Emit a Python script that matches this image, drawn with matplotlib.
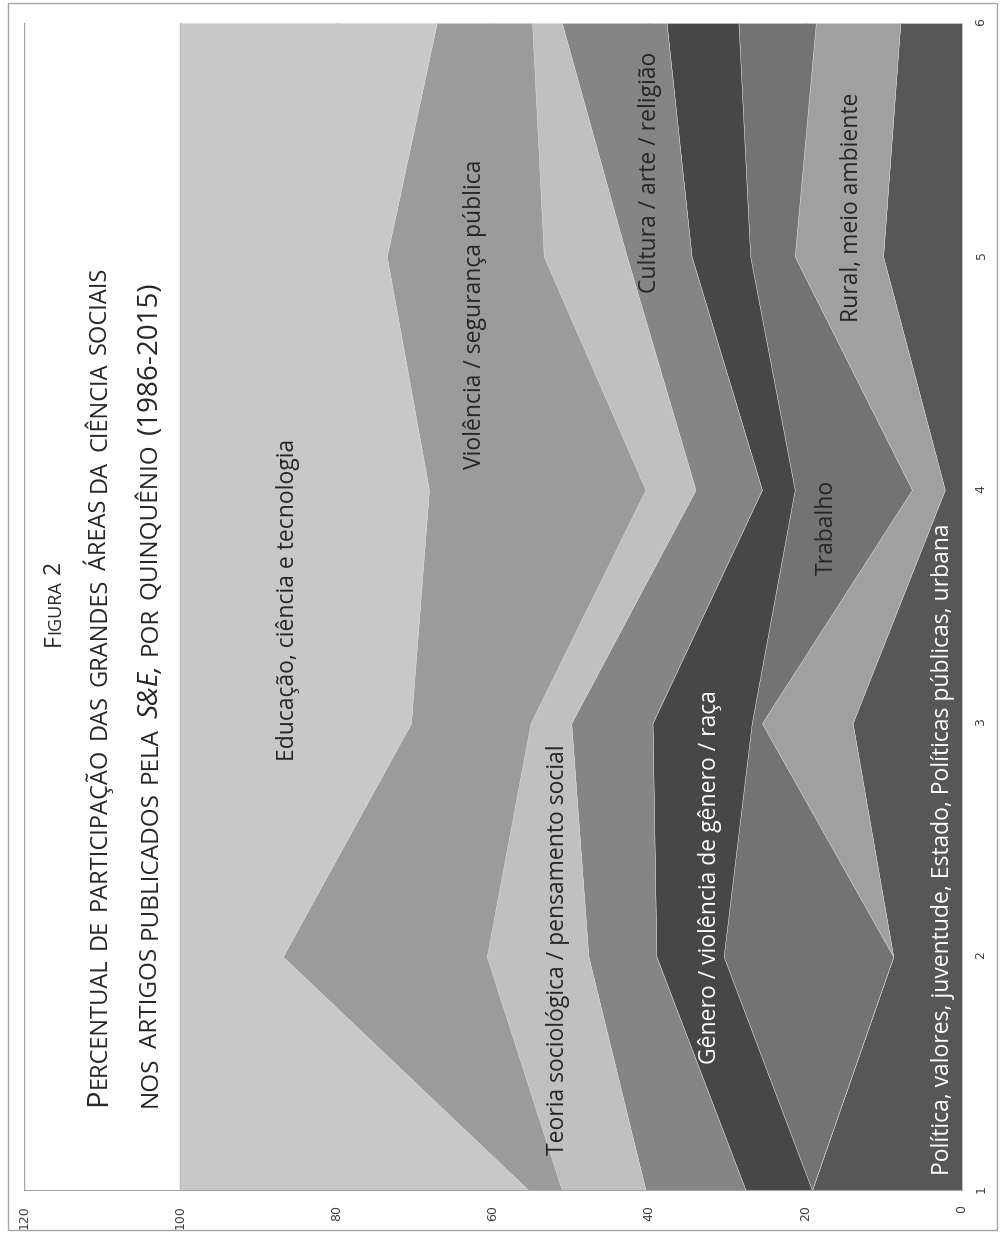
import matplotlib.pyplot as plt
import numpy as np
from matplotlib.patches import Rectangle


# Quinquênios (eixo das categorias) e rótulos do eixo de valores.
QUINQUENIOS = [1, 2, 3, 4, 5, 6]
TICKS_PERCENTUAL = [0, 20, 40, 60, 80, 100, 120]

# Percentual de cada área por quinquênio, de baixo para cima.
politica = [19.2, 8.8, 14.0, 2.2, 10.1, 7.9]
rural = [0.0, 0.0, 11.6, 4.2, 11.3, 10.8]
trabalho = [0.0, 21.7, 1.3, 15.0, 5.7, 9.9]
genero = [8.5, 8.6, 12.7, 4.2, 7.5, 9.2]
cultura = [12.8, 8.7, 10.4, 8.5, 8.3, 13.4]
teoria = [10.7, 13.0, 5.2, 6.4, 10.6, 3.8]
violencia = [4.3, 26.1, 15.3, 27.7, 20.1, 12.2]
educacao = [44.5, 13.1, 29.5, 31.8, 26.4, 32.8]

NOMES = [
    "Política, valores, juventude, Estado, Políticas públicas, urbana",
    "Rural, meio ambiente",
    "Trabalho",
    "Gênero / violência de gênero / raça",
    "Cultura / arte / religião",
    "Teoria sociológica / pensamento social",
    "Violência / segurança pública",
    "Educação, ciência e tecnologia",
]
SERIES = [politica, rural, trabalho, genero, cultura, teoria, violencia, educacao]

CORES = ["#575757", "#a0a0a0", "#737373", "#474747",
         "#858585", "#c0c0c0", "#9b9b9b", "#c8c8c8"]
CORES_TEXTO = ["white", "#262626", "#262626", "white",
               "#262626", "#262626", "#262626", "#262626"]
# Posição (percentual, quinquênio) do centro de cada rótulo.
POSICOES_ROTULO = [(2.4, 2.46), (14.1, 5.21), (17.3, 3.84), (32.2, 2.34),
                   (39.9, 5.36), (51.7, 2.03), (62.3, 4.75), (86.2, 3.53)]

LARGURA, ALTURA = 1001, 1233
FONTE = "Open Sans"


def fx(px):
    return px / LARGURA


def fy(py):
    return 1 - py / ALTURA


def versalete(fig, x_px, y_centro_px, texto, grande, pequeno, italico=()):
    """Escreve texto em versalete girado 90 graus, centrado em y_centro_px."""
    renderer = fig.canvas.get_renderer()
    pecas = []
    palavras = texto.split(" ")
    for i, palavra in enumerate(palavras):
        estilo = "italic" if palavra.rstrip(",") in italico else "normal"
        trecho, atual = "", None
        for ch in palavra:
            maior = ch.isupper() or ch.isdigit() or ch in "()&-" or estilo == "italic"
            if atual is not None and maior != atual:
                pecas.append((trecho, atual, estilo))
                trecho = ""
            trecho += ch if maior else ch.upper()
            atual = maior
        if trecho:
            pecas.append((trecho, atual, estilo))
        if i < len(palavras) - 1:
            pecas.append((" ", None, "normal"))

    artistas = []
    comprimentos = []
    espaco = pequeno * 0.32 * fig.dpi / 72
    for trecho, maior, estilo in pecas:
        if maior is None:
            artistas.append(None)
            comprimentos.append(espaco)
            continue
        t = fig.text(0, 0, trecho, rotation=90, rotation_mode="anchor",
                     ha="left", va="baseline", fontsize=grande if maior else pequeno,
                     style=estilo, family=FONTE, color="#262626")
        ext = t.get_window_extent(renderer)
        artistas.append(t)
        comprimentos.append(ext.height + 0.8)

    total = sum(comprimentos)
    y_px = y_centro_px + total / 2
    for t, comp in zip(artistas, comprimentos):
        if t is not None:
            t.set_position((fx(x_px), fy(y_px)))
        y_px -= comp


figura = plt.figure(figsize=(LARGURA / 100, ALTURA / 100), dpi=100)
eixo = figura.add_axes([fx(24), 1 - 1190 / ALTURA, fx(962) - fx(24), (1190 - 23) / ALTURA])

# Linhas de grade verticais (ficam atrás das áreas; só 100 e 120 aparecem).
for valor in TICKS_PERCENTUAL:
    eixo.axvline(valor, color="#a6a6a6", lw=1.0, zorder=0)

# Áreas empilhadas na horizontal: percentual no eixo x, quinquênio no eixo y.
base = np.zeros(len(QUINQUENIOS))
for serie, cor in zip(SERIES, CORES):
    topo = base + np.array(serie)
    eixo.fill_betweenx(QUINQUENIOS, base, topo, facecolor=cor,
                       edgecolor="#d8d8d8", lw=0.3, zorder=1)
    base = topo

for nome, (valor, quinq), cor_texto in zip(NOMES, POSICOES_ROTULO, CORES_TEXTO):
    eixo.text(valor, quinq, nome, rotation=90, ha="center", va="center",
              fontsize=16.5, color=cor_texto, family=FONTE, zorder=3)

eixo.set_xlim(120, 0)
eixo.set_ylim(1, 6)
eixo.set_xticks(TICKS_PERCENTUAL)
eixo.set_yticks(QUINQUENIOS)
eixo.yaxis.tick_right()
eixo.tick_params(axis="x", length=0, pad=11, labelrotation=90, labelsize=9,
                 labelcolor="#404040")
eixo.tick_params(axis="y", length=0, pad=9, labelrotation=90, labelsize=9,
                 labelcolor="#404040")
for lado in ["top", "left", "right"]:
    eixo.spines[lado].set_visible(False)
eixo.spines["bottom"].set_color("#a6a6a6")
eixo.set_facecolor("white")

# Moldura externa do gráfico.
figura.patches.append(Rectangle((fx(8), fy(1230)), fx(997) - fx(8), (1230 - 3) / ALTURA,
                                transform=figura.transFigure, fill=False,
                                edgecolor="#a6a6a6", lw=1.0))

versalete(figura, 60, 603, "Figura 2", grande=16.5, pequeno=13)
versalete(figura, 106, 686, "Percentual de participação das grandes áreas da ciência sociais",
          grande=21, pequeno=17)
versalete(figura, 157, 694, "nos artigos publicados pela S&E, por quinquênio (1986-2015)",
          grande=20, pequeno=17.5, italico=("S&E",))

figura.savefig("out.png", dpi=100)
